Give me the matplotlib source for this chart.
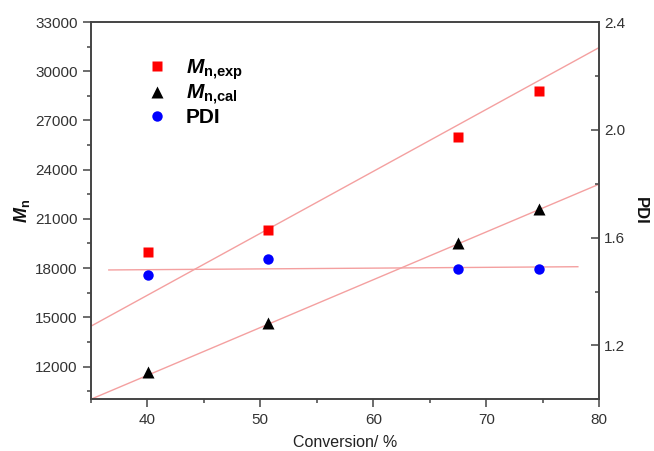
import numpy as np
import matplotlib
matplotlib.use('Agg')
import matplotlib.pyplot as plt
from matplotlib.ticker import MultipleLocator

plt.rcParams['font.family'] = ['Liberation Sans', 'DejaVu Sans']
plt.rcParams['mathtext.fontset'] = 'custom'
plt.rcParams['mathtext.rm'] = 'Liberation Sans'
plt.rcParams['mathtext.it'] = 'Liberation Sans:italic'
plt.rcParams['mathtext.bf'] = 'Liberation Sans:bold'
plt.rcParams['mathtext.bfit'] = 'Liberation Sans:italic:bold'

# values
conversion = [40.1, 50.7, 67.5, 74.7]
mn_exp = [19000, 20300, 26000, 28800]
mn_cal = [11650, 14670, 19510, 21580]
pdi = [1.461, 1.520, 1.484, 1.485]

# straight guide lines (end points)
line_exp_x = [35, 80]
line_exp_y = [14450, 31450]
line_cal_x = [35, 80]
line_cal_y = [10000, 23120]
line_pdi_x = [36.6, 78.1]
line_pdi_y = [1.480, 1.492]

label_exp = r'$\mathbfit{M}_{\mathbf{n{,}exp}}$'
label_cal = r'$\mathbfit{M}_{\mathbf{n{,}cal}}$'

dpi = 100
fig = plt.figure(figsize=(6.54, 4.51), dpi=dpi)
ax = fig.add_axes([0.1387, 0.1146, 0.7777, 0.8366])
ax2 = ax.twinx()

line_col = '#f4a0a0'
ax.plot(line_exp_x, line_exp_y, color=line_col, lw=1.0, zorder=1)
ax.plot(line_cal_x, line_cal_y, color=line_col, lw=1.0, zorder=1)
ax2.plot(line_pdi_x, line_pdi_y, color=line_col, lw=1.0, zorder=1)

h1, = ax.plot(conversion, mn_exp, 's', color='#ff0000', ms=6.5, mec='none', zorder=3, label=label_exp)
h2, = ax.plot(conversion, mn_cal, '^', color='black', ms=9, mec='none', zorder=3, label=label_cal)
h3, = ax2.plot(conversion, pdi, 'o', color='#0000ff', ms=7.5, mec='none', zorder=3, label='PDI')

ax.set_xlim(35, 80)
ax.set_ylim(10000, 33000)
ax2.set_ylim(1.0, 2.4)

ax.xaxis.set_major_locator(MultipleLocator(10))
ax.xaxis.set_minor_locator(MultipleLocator(5))
ax.yaxis.set_minor_locator(MultipleLocator(1500))
ax.set_yticks(np.arange(12000, 33001, 3000))
ax2.yaxis.set_minor_locator(MultipleLocator(0.2))
ax2.set_yticks([1.2, 1.6, 2.0, 2.4])
ax2.yaxis.set_major_formatter(plt.FormatStrFormatter('%.1f'))

spine_col = '#444444'
for a in (ax, ax2):
    for s in a.spines.values():
        s.set_color(spine_col)
        s.set_linewidth(1.2)

ax.tick_params(axis='both', which='major', direction='out', length=6, width=1.1,
               color=spine_col, labelsize=11, labelcolor='#333333')
ax.tick_params(axis='both', which='minor', direction='out', length=3, width=1.1, color=spine_col)
ax.tick_params(top=False, right=False, which='both')
ax2.tick_params(axis='y', which='major', direction='in', length=6, width=1.1,
                color=spine_col, labelsize=11, labelcolor='#333333')
ax2.tick_params(axis='y', which='minor', direction='in', length=3, width=1.1, color=spine_col)

ax.set_xlabel('Conversion/ %', fontsize=11.5, color='#222222', labelpad=6)
ax.set_ylabel(r'$\mathbfit{M}_{\mathbf{n}}$', fontsize=13, color='#111111', labelpad=2)
ax2.set_ylabel('PDI', fontsize=12, fontweight='bold', rotation=270, labelpad=16, color='#111111')

ax2.legend(handles=[h1, h2, h3], loc='upper left', bbox_to_anchor=(0.068, 0.956),
           frameon=False, handlelength=1.2, handletextpad=0.8,
           labelspacing=0.05, prop={'weight': 'bold', 'size': 15})

fig.savefig('out.png', dpi=dpi)
plt.close(fig)
